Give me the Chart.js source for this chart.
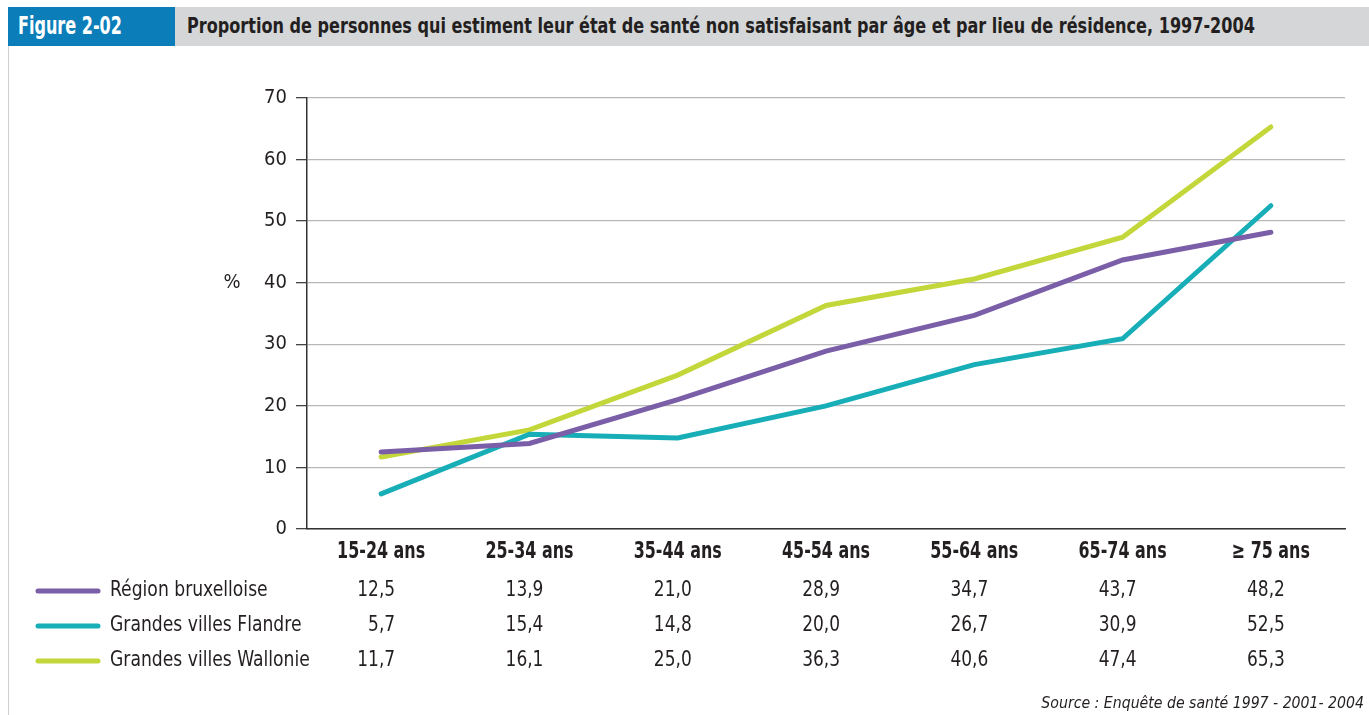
<!DOCTYPE html>
<html lang="fr">
<head>
<meta charset="utf-8">
<title>Figure 2-02</title>
<script src="https://cdn.jsdelivr.net/npm/chart.js@4"></script>
<style>
  html, body { margin: 0; padding: 0; background: #fff; }
  body { width: 1369px; height: 715px; position: relative; overflow: hidden;
         font-family: "Liberation Sans Narrow", "DejaVu Sans Condensed", "Noto Sans", sans-serif; }
  #wrap { position: absolute; left: 0; top: 0; width: 1369px; height: 715px; }
  #header { position: absolute; left: 8px; top: 7px; right: 0; height: 39px; background: #d5d6d8; z-index: 2; }
  #fig { position: absolute; left: 0; top: 0; width: 167px; height: 39px; background: #0b7db9; }
  #figText { position: absolute; left: 10px; top: 0; line-height: 39px; color: #fff; font-weight: bold;
             font-size: 24px; white-space: nowrap; transform-origin: left center; }
  #title { position: absolute; left: 179px; top: 0; height: 39px; line-height: 39px;
           font-weight: bold; font-size: 21px; color: #231f20; white-space: nowrap; transform-origin: left center; }
  #edge { position: absolute; left: 8px; top: 46px; width: 1px; height: 669px; background: #cfcfcf; z-index: 2; }
</style>
</head>
<body>
<div id="header">
  <div id="fig"><span id="figText">Figure 2-02</span></div>
  <div id="title">Proportion de personnes qui estiment leur état de santé non satisfaisant par âge et par lieu de résidence, 1997-2004</div>
</div>
<div id="edge"></div>
<div id="wrap"><canvas id="chart" width="1369" height="715"></canvas></div>
<script>
// catégories d'âge
const ageGroups = ['15-24 ans', '25-34 ans', '35-44 ans', '45-54 ans', '55-64 ans', '65-74 ans', '≥ 75 ans'];

// % qui estiment leur santé non satisfaisante
const bruxelles = [12.5, 13.9, 21.0, 28.9, 34.7, 43.7, 48.2];
const flandre   = [5.7, 15.4, 14.8, 20.0, 26.7, 30.9, 52.5];
const wallonie  = [11.7, 16.1, 25.0, 36.3, 40.6, 47.4, 65.3];

const seriesNames = ['Région bruxelloise', 'Grandes villes Flandre', 'Grandes villes Wallonie'];
const seriesColors = ['#7b5ea8', '#17aeb7', '#c3d63a'];
const yTicks = [0, 10, 20, 30, 40, 50, 60, 70];

const FONT = '"Liberation Sans Narrow", "DejaVu Sans Condensed", "Noto Sans", sans-serif';

// textes d'en-tête resserrés à leur largeur
function fitWidth(el, w) {
    const sw = el.scrollWidth;
    if (sw > w) el.style.transform = 'scaleX(' + (w / sw) + ')';
}
fitWidth(document.getElementById('figText'), 104);
fitWidth(document.getElementById('title'), 1255 - 187);

// texte condensé horizontalement (police plus étroite)
function squeezeText(ctx, text, x, y, align, sx) {
    ctx.save();
    ctx.translate(x, y);
    ctx.scale(sx, 1);
    ctx.textAlign = align;
    ctx.fillText(text, 0, 0);
    ctx.restore();
}

// tableau des valeurs sous le graphique + légende
const tablePlugin = {
    id: 'dataTable',
    afterDraw(chart) {
        const ctx = chart.ctx;
        const xs = chart.scales.x;
        const ys = chart.scales.y;
        const rows = [bruxelles, flandre, wallonie];
        const rowY = [591, 626, 661];
        ctx.save();
        ctx.fillStyle = '#231f20';
        ctx.textBaseline = 'middle';

        // étiquettes des catégories
        ctx.font = 'bold 23px ' + FONT;
        ageGroups.forEach((lab, i) => {
            squeezeText(ctx, lab, xs.getPixelForValue(i), 552, 'center', 0.77);
        });

        ctx.font = '21px ' + FONT;
        rows.forEach((vals, r) => {
            // trait de légende
            ctx.strokeStyle = seriesColors[r];
            ctx.lineWidth = 5;
            ctx.lineCap = 'round';
            ctx.beginPath();
            ctx.moveTo(38, rowY[r]);
            ctx.lineTo(98, rowY[r]);
            ctx.stroke();
            squeezeText(ctx, seriesNames[r], 110, rowY[r], 'left', 0.91);
            vals.forEach((v, i) => {
                squeezeText(ctx, v.toFixed(1).replace('.', ','), xs.getPixelForValue(i) + 14, rowY[r], 'right', 0.9);
            });
        });
        // unité de l'axe
        ctx.textAlign = 'center';
        ctx.font = '20px ' + FONT;
        ctx.fillText('%', 232, ys.getPixelForValue(40));
        // source
        ctx.font = 'italic 16px ' + FONT;
        squeezeText(ctx, 'Source : Enquête de santé 1997 - 2001- 2004', 1364, 704, 'right', 0.98);
        ctx.restore();
    }
};

const ctx = document.getElementById('chart').getContext('2d');

new Chart(ctx, {
    type: 'line',
    data: {
        labels: ageGroups,
        datasets: [bruxelles, flandre, wallonie].map((vals, i) => ({
            label: seriesNames[i],
            data: vals,
            borderColor: seriesColors[i],
            backgroundColor: seriesColors[i],
            borderWidth: 5,
            borderCapStyle: 'round',
            borderJoinStyle: 'miter',
            pointRadius: 0,
            tension: 0,
            fill: false
        }))
    },
    options: {
        responsive: false,
        animation: false,
        events: [],
        layout: { padding: { top: 98, right: 24, bottom: 0, left: 0 } },
        plugins: { legend: { display: false }, tooltip: { enabled: false } },
        scales: {
            x: {
                offset: true,
                grid: { display: false, drawTicks: false },
                border: { display: true, color: '#333', width: 1.5 },
                ticks: { display: false },
                afterFit(scale) { scale.height = 186; }
            },
            y: {
                min: 0,
                max: 70,
                afterBuildTicks(scale) { scale.ticks = yTicks.map(v => ({ value: v })); },
                grid: { color: '#b8b8b8', lineWidth: 1.3, tickColor: '#444', tickLength: 11 },
                border: { display: true, color: '#333', width: 1.5 },
                ticks: { color: '#231f20', font: { family: FONT, size: 20 }, padding: 9 },
                afterFit(scale) { scale.width = 307; }
            }
        }
    },
    plugins: [tablePlugin]
});
</script>
</body>
</html>
